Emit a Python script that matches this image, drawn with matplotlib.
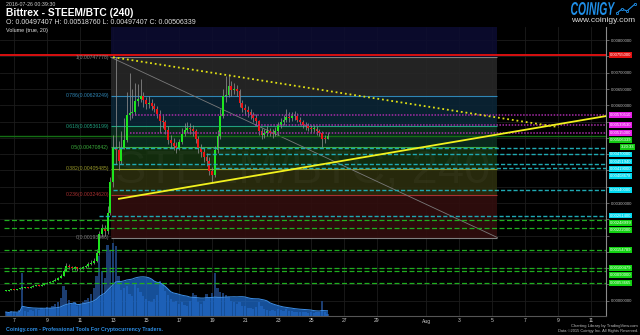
"""
Bittrex STEEM/BTC 4h chart: candles, volume with 20-period average,
fib retracement, trend lines and price alert lines in a dark terminal style.
"""
import numpy as np
import pandas as pd
import matplotlib
matplotlib.use('Agg')
import matplotlib.pyplot as plt
import matplotlib.transforms as mtransforms
from matplotlib.textpath import TextPath
from matplotlib.patches import PathPatch
from matplotlib.font_manager import FontProperties
from matplotlib.lines import Line2D

plt.rcParams['font.family'] = ['Liberation Sans', 'DejaVu Sans']

# ---------------------------------------------------------------- data
# candle times are July-2016 day numbers (Aug 1 == 32), 4h bars
CANDLE_START = 6.5
CANDLE_HOURS = 4
FIRST_OPEN = 0.00030

CLOSE = [
    0.00031, 0.00033, 0.00035, 0.00034, 0.00036, 0.00038,
    0.00039, 0.00041, 0.00040, 0.00043, 0.00045, 0.00047,
    0.00046, 0.00049, 0.00052, 0.00054, 0.00057, 0.00061,
    0.00065, 0.00070, 0.00076, 0.00092, 0.00108, 0.00104,
    0.00099, 0.00102, 0.00096, 0.00100, 0.00103, 0.00107,
    0.00112, 0.00116, 0.00122, 0.00146, 0.00205, 0.00222,
    0.00215, 0.00268, 0.00366, 0.00470, 0.00462, 0.00428,
    0.00470, 0.00494, 0.00571, 0.00575, 0.00578, 0.00612,
    0.00620, 0.00628, 0.00615, 0.00604, 0.00606, 0.00598,
    0.00588, 0.00572, 0.00552, 0.00548, 0.00524, 0.00494,
    0.00485, 0.00475, 0.00468, 0.00486, 0.00512, 0.00525,
    0.00530, 0.00528, 0.00520, 0.00495, 0.00468, 0.00458,
    0.00440, 0.00430, 0.00397, 0.00385, 0.00462, 0.00505,
    0.00568, 0.00628, 0.00632, 0.00658, 0.00648, 0.00650,
    0.00645, 0.00607, 0.00592, 0.00585, 0.00578, 0.00570,
    0.00562, 0.00551, 0.00520, 0.00510, 0.00515, 0.00520,
    0.00515, 0.00512, 0.00520, 0.00538, 0.00548, 0.00555,
    0.00565, 0.00560, 0.00566, 0.00568, 0.00556, 0.00548,
    0.00540, 0.00535, 0.00530, 0.00526, 0.00528, 0.00520,
    0.00514, 0.00498, 0.00497407, 0.00506339,
]

HIGH = [
    0.00033, 0.00034, 0.00036, 0.00037, 0.00037, 0.00040,
    0.00041, 0.00042, 0.00043, 0.00045, 0.00047, 0.00049,
    0.00049, 0.00051, 0.00054, 0.00057, 0.00060, 0.00064,
    0.00069, 0.00074, 0.00082, 0.00098, 0.00116, 0.00112,
    0.00107, 0.00106, 0.00104, 0.00103, 0.00107, 0.00111,
    0.00118, 0.00124, 0.00131, 0.00158, 0.00215, 0.00236,
    0.00232, 0.00290, 0.00380, 0.00510, 0.00747778, 0.00490,
    0.00520, 0.00560, 0.00640, 0.00698, 0.00650, 0.00670,
    0.00665, 0.00680, 0.00640, 0.00625, 0.00630, 0.00618,
    0.00608, 0.00598, 0.00585, 0.00570, 0.00556, 0.00535,
    0.00510, 0.00500, 0.00488, 0.00495, 0.00530, 0.00545,
    0.00548, 0.00545, 0.00540, 0.00528, 0.00505, 0.00480,
    0.00470, 0.00455, 0.00440, 0.00412, 0.00475, 0.00525,
    0.00590, 0.00650, 0.00690, 0.00695, 0.00675, 0.00668,
    0.00662, 0.00650, 0.00615, 0.00605, 0.00598, 0.00590,
    0.00580, 0.00572, 0.00556, 0.00530, 0.00528, 0.00535,
    0.00530, 0.00528, 0.00532, 0.00548, 0.00560, 0.00570,
    0.00588, 0.00578, 0.00580, 0.00582, 0.00575, 0.00565,
    0.00556, 0.00550, 0.00545, 0.00540, 0.00540, 0.00535,
    0.00528, 0.00520, 0.00508, 0.00518760,
]

LOW = [
    0.00029, 0.00030, 0.00032, 0.00033, 0.00033, 0.00035,
    0.00037, 0.00038, 0.00039, 0.00039, 0.00042, 0.00044,
    0.00045, 0.00045, 0.00048, 0.00051, 0.00053, 0.00056,
    0.00060, 0.00064, 0.00069, 0.00075, 0.00090, 0.00098,
    0.00094, 0.00095, 0.00092, 0.00094, 0.00098, 0.00101,
    0.00105, 0.00109, 0.00113, 0.00119, 0.00140, 0.00196,
    0.00200, 0.00205, 0.00262, 0.00350, 0.00420, 0.00400,
    0.00420, 0.00465, 0.00488, 0.00555, 0.00560, 0.00570,
    0.00598, 0.00610, 0.00596, 0.00590, 0.00592, 0.00585,
    0.00578, 0.00560, 0.00515, 0.00530, 0.00512, 0.00480,
    0.00470, 0.00462, 0.00455, 0.00462, 0.00480, 0.00505,
    0.00515, 0.00512, 0.00505, 0.00485, 0.00455, 0.00440,
    0.00425, 0.00415, 0.00385, 0.00362, 0.00380, 0.00455,
    0.00495, 0.00560, 0.00610, 0.00625, 0.00630, 0.00635,
    0.00628, 0.00595, 0.00580, 0.00570, 0.00565, 0.00558,
    0.00550, 0.00540, 0.00510, 0.00498, 0.00500, 0.00506,
    0.00505, 0.00500, 0.00505, 0.00510, 0.00530, 0.00540,
    0.00548, 0.00548, 0.00552, 0.00555, 0.00548, 0.00540,
    0.00530, 0.00525, 0.00520, 0.00515, 0.00518, 0.00510,
    0.00505, 0.00472, 0.00485, 0.00497407,
]

VOLUME = [
    40, 30, 50, 40, 30, 60,
    430, 50, 40, 60, 50, 70,
    60, 80, 70, 90, 80, 100,
    120, 140, 180, 300, 260, 160,
    120, 140, 100, 120, 140, 160,
    180, 220, 280, 400, 600, 450,
    380, 710, 660, 730, 700, 400,
    260, 280, 300, 220, 200, 330,
    280, 240, 200, 170, 150, 140,
    170, 210, 350, 330, 250, 210,
    170, 140, 150, 120, 140, 110,
    100, 150, 230, 210, 140, 120,
    150, 220, 180, 230, 430, 280,
    240, 230, 210, 190, 150, 140,
    120, 140, 100, 100, 80, 80,
    75, 95, 140, 100, 70, 60,
    55, 60, 55, 70, 60, 55,
    70, 55, 50, 45, 45, 40,
    45, 40, 35, 40, 35, 40,
    45, 150, 40, 25,
]
VOL_MA_LEN = 20

# fib retracement drawn from the Jul 13 spike high down to Aug 5
FIB_HIGH = 0.00747778
FIB_LOW = 0.00193906
FIB_RATIOS = [1, 0.786, 0.618, 0.5, 0.382, 0.236, 0]
FIB_T = [12.85, 36.3]

# trend lines (time, price anchors)
TREND_UP_T = [13.36, 43.0]
TREND_UP_P = [0.003129, 0.005680]
TREND_DOWN_T = [13.0, 40.0]
TREND_DOWN_P = [0.00747778, 0.00533]

# alert lines
RED_LEVEL = 0.00755
MAGENTA_LEVELS = [0.00570510, 0.00539530, 0.00515000]
MAGENTA_START = [14.15, 21.6, 14.03]
CYAN_LEVELS = [0.00470000, 0.00451940, 0.00419000, 0.00408678, 0.00340000, 0.00261400]
CYAN_START = [13.0, 18.64, 13.0, 19.18, 13.0, 12.15]
GREEN_LEVELS = [0.00248999, 0.00222000, 0.00154789, 0.00100479, 0.00090000, 0.00053665]
GREEN_START = [6.4, 6.4, 6.4, 6.4, 6.4, 6.4]
COUNTDOWN = '3:20:33'

XTICK_DAYS = [7, 9, 11, 13, 15, 17, 19, 21, 23, 25, 27, 29, 32, 34, 36, 38, 40, 42]
XTICK_LABELS = ['7', '9', '11', '13', '15', '17', '19', '21', '23', '25', '27', '29',
                'Aug', '3', '5', '7', '9', '11']
PRICE_TICKS = [0.0005 * k for k in range(17)]

XLIM = (6.15, 42.88)
YLIM = (-0.00047, 0.00842)

# ---------------------------------------------------------------- colors
BG = '#000000'
UP = '#1ee61e'
DOWN = '#ee1414'
WICK = '#8c8c8c'
FIB_LINE = ['#808080', '#2f86b5', '#21a07e', '#3cae3c', '#9a9a2a', '#a83030', '#808080']
FIB_BAND = ['#272727', '#0b2536', '#0c2e20', '#15320f', '#2c2e0e', '#310e0e']
FIB_TOP = '#0c0c30'

W, H = 640, 335


def fx(x):
    return x / W


def fy(y):
    return 1 - y / H


fig = plt.figure(figsize=(W / 100, H / 100), dpi=100, facecolor=BG)
ax = fig.add_axes([0, (H - 316) / H, 606 / W, (316 - 26.5) / H])
ax.set_facecolor(BG)

n = len(CLOSE)
t = CANDLE_START + np.arange(n) * CANDLE_HOURS / 24
bw = CANDLE_HOURS / 24
close = np.array(CLOSE)
opens = np.concatenate([[FIRST_OPEN], close[:-1]])
high = np.array(HIGH)
low = np.array(LOW)

# grid
ax.set_axisbelow(True)
ax.grid(True, color='#1c1c1c', lw=0.6)

# fib bands and levels
fib_p = [FIB_LOW + r * (FIB_HIGH - FIB_LOW) for r in FIB_RATIOS]
ax.fill_between(FIB_T, FIB_HIGH, YLIM[1], color=FIB_TOP, lw=0, alpha=0.9, zorder=0.6)
for k in range(len(fib_p) - 1):
    ax.fill_between(FIB_T, fib_p[k + 1], fib_p[k], color=FIB_BAND[k], lw=0,
                    alpha=0.9, zorder=0.6)
for r, p, c in zip(FIB_RATIOS, fib_p, FIB_LINE):
    ax.hlines(p, FIB_T[0], FIB_T[1], color=c, lw=0.8, zorder=0.8)
    ax.text(FIB_T[0] - 0.1, p, f'{r:g}({p:.8f})', ha='right', va='center',
            fontsize=3.7, color=c, zorder=5)
ax.plot([FIB_T[0], FIB_T[1]], [FIB_HIGH, FIB_LOW], color='#7a7a7a', lw=0.6, zorder=0.9)

# watermark
ax.text(0.5, 0.5, 'STEEM/BTC, 240', transform=ax.transAxes, ha='center', va='center',
        fontsize=34, color='white', alpha=0.035, zorder=0.7)

# volume pane shares the bottom of the price pane
VOL_TOP = 2895
vol_tr = mtransforms.blended_transform_factory(
    ax.transData, mtransforms.Affine2D().scale(1, 1 / VOL_TOP) + ax.transAxes)
ax.bar(t, VOLUME, width=bw * 0.8, color='#1c3d70', lw=0, transform=vol_tr, zorder=1.5)
vol_ma = pd.Series(VOLUME, dtype=float).rolling(VOL_MA_LEN, min_periods=1).mean()
ax.fill_between(t, 0, vol_ma, color='#1e6fd4', alpha=0.72, lw=0, transform=vol_tr, zorder=1.6)
ax.plot(t, vol_ma, color='#3d8fe8', lw=0.7, transform=vol_tr, zorder=1.7)

# current price line
ax.axhline(CLOSE[-1], color='#146e14', lw=1.0, zorder=2.6)

# candles
ax.vlines(t, low, high, color=WICK, lw=0.55, zorder=2.9)
up = close >= opens
body = np.maximum(np.abs(close - opens), 0.00003)
ax.bar(t, body, bottom=np.minimum(opens, close), width=bw * 0.72,
       color=np.where(up, UP, DOWN), lw=0, zorder=3)

# alert lines
ax.axhline(RED_LEVEL, color='#d81010', lw=1.4, zorder=3.5)
for p, s in zip(MAGENTA_LEVELS, MAGENTA_START):
    ax.hlines(p, s, XLIM[1], color='#a82ca8', lw=1.1, linestyles=(0, (1, 1)), zorder=3.5)
for p, s in zip(CYAN_LEVELS, CYAN_START):
    ax.hlines(p, s, XLIM[1], color='#1fa9b3', lw=1.0, linestyles=(0, (3, 1.5)), zorder=3.5)
for p, s in zip(GREEN_LEVELS, GREEN_START):
    ax.hlines(p, s, XLIM[1], color='#1fae1f', lw=0.9, linestyles=(0, (4, 2)), zorder=3.5)

# trend lines
ax.plot(TREND_UP_T, TREND_UP_P, color='#f2f21e', lw=1.3, zorder=4)
ax.plot(TREND_DOWN_T, TREND_DOWN_P, color='#e0e014', lw=1.3, ls=(0, (1, 1.6)), zorder=4)

# price tags on the right axis, pushed down where they would overlap
tags = [(RED_LEVEL, f'{RED_LEVEL:.8f}', '#e01010', 'left')]
tags += [(p, f'{p:.8f}', '#e61ee6', 'left') for p in MAGENTA_LEVELS]
tags += [(CLOSE[-1], f'{CLOSE[-1]:.8f}', '#12c812', 'left'),
         (CLOSE[-1] - 1e-9, COUNTDOWN, '#12c812', 'right')]
tags += [(p, f'{p:.8f}', '#00d8ee', 'left') for p in CYAN_LEVELS]
tags += [(p, f'{p:.8f}', '#12d212', 'left') for p in GREEN_LEVELS]
tags.sort(key=lambda e: -e[0])
tag_tr = mtransforms.blended_transform_factory(ax.transAxes, ax.transData)
gap = 0.00022
prev = np.inf
tag_y = []
for p, txt, col, ha in tags:
    y = min(p, prev - gap)
    prev = y
    tag_y.append(y)
    x = 609.5 / 606 if ha == 'left' else 634 / 606
    ax.text(x, y, txt, transform=tag_tr, ha=ha, va='center', fontsize=3.0,
            color='white', clip_on=False, zorder=20,
            bbox=dict(boxstyle='square,pad=0.2', fc=col, ec='none'))

# axes styling
ax.set_xlim(*XLIM)
ax.set_ylim(*YLIM)
ax.set_xticks(XTICK_DAYS, XTICK_LABELS)
ax.tick_params(axis='x', length=0, pad=1.8, labelsize=3.6, labelcolor='#cfcfcf')
ax.yaxis.tick_right()
# grid prices sitting under a tag keep their tick but lose the label
tick_labels = ['' if any(abs(v - y) < gap for y in tag_y) else f'{v:.8f}'
               for v in PRICE_TICKS]
ax.set_yticks(PRICE_TICKS, tick_labels)
ax.tick_params(axis='y', length=2, width=0.5, color='#8a8a8a', pad=1.2,
               labelsize=3.0, labelcolor='#bdbdbd')
for side in ['top', 'left']:
    ax.spines[side].set_visible(False)
ax.spines['bottom'].set_color('#555555')
ax.spines['bottom'].set_linewidth(0.8)
ax.spines['right'].set_color('#8a8a8a')
ax.spines['right'].set_linewidth(0.8)

# header
fig.text(fx(6), fy(4.5), '2016-07-26 00:39:30', fontsize=3.8, color='#cfcfcf', va='center')
fig.text(fx(6), fy(13.5), 'Bittrex - STEEM/BTC (240)', fontsize=7.4, fontweight='bold',
         color='white', va='center')
fig.text(fx(6), fy(22), 'O: 0.00497407 H: 0.00518760 L: 0.00497407 C: 0.00506339',
         fontsize=5.0, color='#e0e0e0', va='center')
fig.text(fx(6), fy(30.5), 'Volume (true, 20)', fontsize=3.9, color='#e0e0e0', va='center')

# logo
fp = FontProperties(family='Liberation Sans', weight='bold', style='italic')
tp = TextPath((0, 0), 'COINIGY', size=1, prop=fp)
ext = tp.get_extents()
logo_tr = (mtransforms.Affine2D().translate(-ext.x0, -ext.y0)
           .scale(44 / ext.width, 13 / ext.height).translate(571, H - 15))
fig.add_artist(PathPatch(tp, transform=logo_tr, color='#1f8fe8', lw=0))
icon_x = [617, 622, 627, 635]
icon_y = [13, 9, 11, 4]
fig.add_artist(Line2D([fx(v) for v in icon_x], [fy(v) for v in icon_y], color='#1f8fe8',
                      lw=0.8, marker='o', ms=1.6, mfc=BG, mec='#1f8fe8', mew=0.6))
fig.text(fx(571), fy(20), 'www.coinigy.com', fontsize=6.0, color='#dddddd', va='center')

# footer
fig.text(fx(6), fy(329), 'Coinigy.com - Professional Tools For Cryptocurrency Traders.',
         fontsize=3.8, fontweight='bold', color='#2e8fe6', va='center')
fig.text(fx(638), fy(325.5), 'Charting Library by TradingView.com', fontsize=3.0,
         color='#bbbbbb', ha='right', va='center')
fig.text(fx(638), fy(331), 'Data \u00a92015 Coinigy Inc. All Rights Reserved.', fontsize=2.9,
         color='#bbbbbb', ha='right', va='center')

fig.savefig('out.png', dpi=100, facecolor=BG)
